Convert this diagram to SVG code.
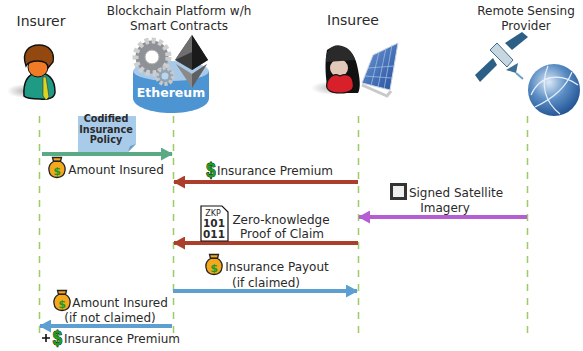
<svg xmlns="http://www.w3.org/2000/svg" width="583" height="351" viewBox="0 0 583 351">
<style>
text{font-family:"DejaVu Sans","Liberation Sans",sans-serif;font-size:12px;fill:#2a2a2a;text-anchor:middle}
.life{stroke:#9ccc65;stroke-width:1.500;stroke-dasharray:7 7;fill:none}
.ar{stroke-width:4;fill:none}
.dollar{font-family:"Liberation Sans",sans-serif;font-weight:bold;fill:#1aa01a;stroke:#000;stroke-width:.9;paint-order:stroke}
.title{font-size:14px}
.pol{font-size:9.700px;font-weight:bold}
</style>
<defs>
<g id="bag">
<path d="M-4.500,-10.500 L4.500,-10.500 L3.500,-6.500 C7,-4.500 8.500,-1 8,2.500 C7.500,7 4.500,9.500 0,9.500 C-4.500,9.500 -7.500,7 -8,2.500 C-8.500,-1 -7,-4.500 -3.500,-6.500Z" fill="#f5a81c" stroke="#222" stroke-width="1.300"/>
<path d="M-4,-6.800 H4" stroke="#222" stroke-width="1.600"/>
<text y="6.500" style="font-size:11px;fill:#1d9a2a;font-weight:bold">$</text>
</g>
<g id="dol"><text y="7" transform="scale(.8,1)" class="dollar" style="font-size:21px">$</text></g>
<marker id="mg" markerUnits="userSpaceOnUse" markerWidth="13" markerHeight="13" refX="11" refY="6.500" orient="auto"><path d="M0,0L12,6.500L0,13Z" fill="#5aaa85"/></marker>
<marker id="mr" markerUnits="userSpaceOnUse" markerWidth="13" markerHeight="13" refX="11" refY="6.500" orient="auto"><path d="M0,0L12,6.500L0,13Z" fill="#ac3f2c"/></marker>
<marker id="mp" markerUnits="userSpaceOnUse" markerWidth="13" markerHeight="13" refX="11" refY="6.500" orient="auto"><path d="M0,0L12,6.500L0,13Z" fill="#b45ed2"/></marker>
<marker id="mb" markerUnits="userSpaceOnUse" markerWidth="13" markerHeight="13" refX="11" refY="6.500" orient="auto"><path d="M0,0L12,6.500L0,13Z" fill="#5c9fd0"/></marker>
<radialGradient id="gl" cx=".4" cy=".35" r=".7"><stop offset="0" stop-color="#dbe9f6"/><stop offset=".5" stop-color="#5a8cc4"/><stop offset="1" stop-color="#1e4f90"/></radialGradient>
<radialGradient id="sh"><stop offset="0" stop-color="#888" stop-opacity=".6"/><stop offset="1" stop-color="#888" stop-opacity="0"/></radialGradient>
<linearGradient id="pan" x1="0" y1="0" x2="1" y2="1"><stop offset="0" stop-color="#6f9ad6"/><stop offset="1" stop-color="#244f9c"/></linearGradient>
</defs>

<g id="connectors">
<path class="life" d="M39.500,116V335"/>
<path class="life" d="M173.500,116V335"/>
<path class="life" d="M358.500,116V335"/>
<path class="life" d="M527.500,116V335"/>
<path class="ar" stroke="#5aaa85" marker-end="url(#mg)" d="M42,154H172"/>
<path class="ar" stroke="#ac3f2c" marker-end="url(#mr)" d="M358,182H174"/>
<path class="ar" stroke="#b45ed2" marker-end="url(#mp)" d="M527,217H359"/>
<path class="ar" stroke="#ac3f2c" marker-end="url(#mr)" d="M358,243H174"/>
<path class="ar" stroke="#5c9fd0" marker-end="url(#mb)" d="M173,291H357"/>
<path class="ar" stroke="#5c9fd0" marker-end="url(#mb)" d="M172,326H40"/>
</g>

<g id="insurer">
<text x="41" y="26" class="title">Insurer</text>
<ellipse cx="24" cy="91" rx="17" ry="7" fill="url(#sh)"/>
<path d="M24,96 C23,82 27,74 38,72 C49,73 55,80 55,92 C55,98 48,100 40,99 C34,99 27,99 24,96Z" fill="#1f9a85" stroke="#111" stroke-width="1.500"/>
<path d="M43,77 L46,77 L49,97 L46,100 L43,96Z" fill="#dcd520" stroke="#333" stroke-width=".6"/>
<ellipse cx="38" cy="67" rx="10" ry="10" fill="#f07a25" stroke="#111" stroke-width="1"/>
<path d="M26,66 C21,52 29,45 39,45 C49,45 55,52 53,62 L48,68 C48,63 44,61 38,61 C32,61 28,62 26,66Z" fill="#93480f" stroke="#111" stroke-width="1.400"/>
</g>

<g id="blockchain">
<text x="179" y="15">Blockchain Platform w/h</text>
<text x="179" y="30">Smart Contracts</text>
<path d="M133,71V98C133,107 152,113 171,113C192,113 209,107 209,98V71Z" fill="#4d94d2"/>
<ellipse cx="171" cy="71" rx="38" ry="10" fill="#a9c9e8"/>
<circle cx="152" cy="57" r="16.500" fill="#8e9296" stroke="#cfcfcf" stroke-width="6" stroke-dasharray="4 3"/>
<circle cx="152" cy="57" r="7" fill="#fff" stroke="#aaa"/>
<circle cx="165" cy="76" r="8" fill="#8fa3b4" stroke="#c8c8c8" stroke-width="4" stroke-dasharray="3 2"/>
<circle cx="165" cy="76" r="3.500" fill="#bcd5ea"/>
<path d="M192,35L175,60L192,70L208,60Z" fill="#3a3a3a"/>
<path d="M192,35L208,60L192,70Z" fill="#1a1a1a"/>
<path d="M192,35L175,60L192,52Z" fill="#6f6f6f"/>
<path d="M176,64L192,74L207,64L192,88Z" fill="#8a8a8a"/>
<path d="M192,74L207,64L192,88Z" fill="#606060"/>
<text x="171" y="97" style="font-size:12.500px;font-weight:bold;fill:#fff">Ethereum</text>
</g>

<g id="insuree">
<text x="353" y="25" class="title">Insuree</text>
<ellipse cx="333" cy="88" rx="22" ry="7" fill="url(#sh)"/>
<path d="M327,50C340,40 354,50 357,65C360,78 361,88 358,93L345,93L327,85C325,73 325,60 327,50Z" fill="#111"/>
<ellipse cx="339" cy="68" rx="9" ry="9" fill="#e2c8b8"/>
<path d="M327,83C329,75 336,73 340,76C346,73 352,75 353,82C355,90 350,93 340,93C332,93 325,91 327,83Z" fill="#d7202a" stroke="#111" stroke-width="1.200"/>
<path d="M326,62C325,50 333,43 342,46C350,48 354,55 355,60C346,61 335,61 326,62Z" fill="#2a2a2a"/>
<path d="M362,83L373,55L398,43L390,90Z" fill="url(#pan)" stroke="#ccd6e4" stroke-width="1"/>
<path d="M368,68L394,66M365,76L392,78M379,52L371,86M386,48L378,87M392,45L384,89" stroke="#a9c4e8" stroke-width=".7" fill="none"/>
<path d="M362,85L387,96L391,91" fill="none" stroke="#c9c9c9" stroke-width="3"/>
</g>

<g id="provider">
<text x="526" y="15">Remote Sensing</text>
<text x="526" y="30">Provider</text>
<path d="M475,75L493,58L497,65L480,82Z" fill="#2c5f86"/>
<path d="M505,43L522,32L528,37L512,50Z" fill="#2c5f86"/>
<path d="M490,50L497,43L513,60L507,67Z" fill="#c8d6e0" stroke="#3d6d91"/>
<path d="M506,70L518,63L516,73Z" fill="#3d6d91"/>
<path d="M516,73L523,79" stroke="#6f9fc3" stroke-width="2"/>
<circle cx="554" cy="90" r="26" fill="url(#gl)"/>
<path d="M531,95C540,75 560,72 578,85M535,107C550,100 565,90 572,72M548,66C540,85 545,102 560,114" fill="none" stroke="#e6f0fa" stroke-width="1.200"/>
</g>

<g id="policy">
<path d="M78,116H136V144L128,152H78Z" fill="#a9cbea"/>
<path d="M128,152L130,146L136,144Z" fill="#6e9fc9"/>
<text x="106" y="122" class="pol">Codified</text>
<text x="106" y="132.500" class="pol">Insurance</text>
<text x="106" y="142.500" class="pol">Policy</text>
</g>

<g id="amount-insured-label">
<use href="#bag" x="57" y="168"/>
<text x="116" y="174">Amount Insured</text>
</g>

<g id="premium-label">
<use href="#dol" x="211" y="170"/>
<text x="275" y="175">Insurance Premium</text>
</g>

<g id="imagery-label">
<rect x="391.500" y="184.500" width="14" height="14" fill="#eee" stroke="#333" stroke-width="3"/>
<text x="456" y="197">Signed Satellite</text>
<text x="445" y="212">Imagery</text>
</g>

<g id="zkp-label">
<path d="M201,206H222L228,212V241H201Z" fill="#fff" stroke="#111" stroke-width="1.200"/>
<text x="213" y="216" style="font-size:8px">ZKP</text>
<text x="214" y="227" style="font-size:10.500px;font-weight:bold">101</text>
<text x="214" y="238" style="font-size:10.500px;font-weight:bold">011</text>
<text x="281" y="224">Zero-knowledge</text>
<text x="282" y="238">Proof of Claim</text>
</g>

<g id="payout-label">
<use href="#bag" x="214" y="265"/>
<text x="277" y="271">Insurance Payout</text>
<text x="266" y="287">(if claimed)</text>
</g>

<g id="refund-label">
<use href="#bag" x="62" y="301"/>
<text x="120" y="307">Amount Insured</text>
<text x="110" y="322">(if not claimed)</text>
<path d="M42,338H50M46,334V342" stroke="#111" stroke-width="1.600"/>
<use href="#dol" x="57.500" y="338"/>
<text x="122" y="343">Insurance Premium</text>
</g>
</svg>
